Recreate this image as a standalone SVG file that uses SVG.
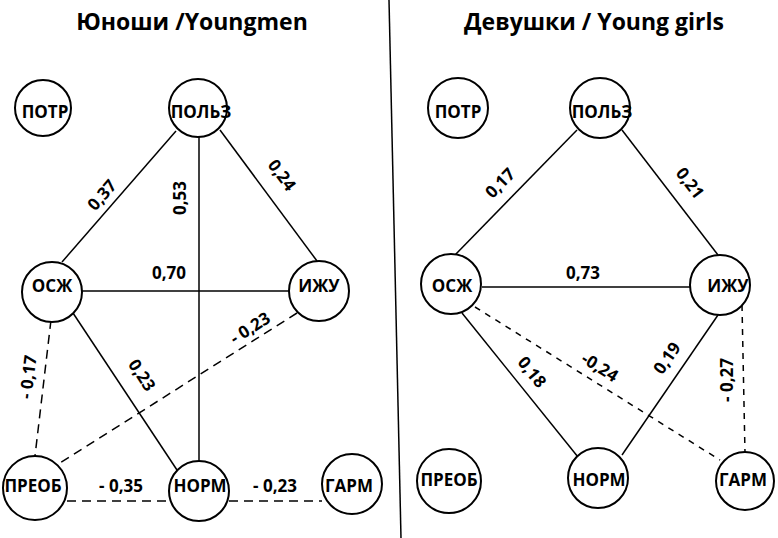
<svg xmlns="http://www.w3.org/2000/svg" width="778" height="538" viewBox="0 0 778 538">
<style>
  .bg{fill:#fff}
  .n circle{fill:#fff;stroke:#000;stroke-width:2}
  .n text{font-family:"Open Sans","Liberation Sans",sans-serif;font-weight:bold;font-size:17px;text-anchor:middle;fill:#000}
  .e line{stroke:#000;stroke-width:1.5;fill:none}
  .e line.d{stroke-dasharray:9 6}
  .e line.d2{stroke-dasharray:6 6}
  .lbl text{font-family:"Open Sans","Liberation Sans",sans-serif;font-weight:bold;font-size:17px;text-anchor:middle;fill:#000}
  .title{font-family:"Open Sans","Liberation Sans",sans-serif;font-weight:bold;font-size:23px;text-anchor:middle;fill:#000}
</style>
<rect class="bg" width="778" height="538"/>
<text class="title" x="192" y="30">Юноши /Youngmen</text>
<text class="title" x="594" y="30">Девушки / Young girls</text>
<line x1="389" y1="0" x2="401" y2="538" stroke="#000" stroke-width="1.5"/>

<g id="connectors" class="e">
  <!-- left -->
  <line x1="62" y1="262" x2="176" y2="131"/>
  <line x1="199" y1="137" x2="199" y2="462"/>
  <line x1="220" y1="130" x2="317" y2="261"/>
  <line x1="82" y1="291" x2="289" y2="291"/>
  <line x1="73" y1="313" x2="177" y2="470"/>
  <line class="d" x1="51" y1="320" x2="35" y2="456"/>
  <line class="d" x1="297" y1="313" x2="60" y2="463"/>
  <line class="d" x1="67" y1="501" x2="169" y2="501"/>
  <line class="d" x1="229" y1="501" x2="322" y2="501"/>
  <!-- right -->
  <line x1="455" y1="255" x2="577" y2="130"/>
  <line x1="622" y1="130" x2="718" y2="255"/>
  <line x1="482" y1="287" x2="690" y2="287"/>
  <line x1="462" y1="313" x2="578" y2="457"/>
  <line x1="718" y1="315" x2="622" y2="455"/>
  <line class="d2" x1="475" y1="307" x2="720" y2="460"/>
  <line class="d2" x1="742" y1="305" x2="745" y2="453"/>
</g>

<g class="lbl">
  <text transform="translate(102,195) rotate(-48.8)" y="6">0,37</text>
  <text transform="translate(180,198) rotate(-90)" y="6">0,53</text>
  <text transform="translate(282,175) rotate(53.5)" y="6">0,24</text>
  <text x="169" y="279">0,70</text>
  <text transform="translate(28,377) rotate(-83)" y="6">- 0,17</text>
  <text transform="translate(142,375) rotate(56.5)" y="6">0,23</text>
  <text transform="translate(250,328) rotate(-32.3)" y="6">- 0,23</text>
  <text x="121" y="492">- 0,35</text>
  <text x="275" y="492">- 0,23</text>

  <text transform="translate(500,183) rotate(-45.7)" y="6">0,17</text>
  <text transform="translate(690,183) rotate(52.5)" y="6">0,21</text>
  <text x="583" y="279">0,73</text>
  <text transform="translate(532,372) rotate(51)" y="6">0,18</text>
  <text transform="translate(600,367) rotate(32)" y="6">-0,24</text>
  <text transform="translate(667,358) rotate(-55.6)" y="6">0,19</text>
  <text transform="translate(727,380) rotate(-90)" y="6">- 0,27</text>
</g>

<!-- left nodes -->
<g id="L-POTR" class="n"><circle cx="43" cy="108" r="28"/><text x="45" y="118">ПОТР</text></g>
<g id="L-POLZ" class="n"><circle cx="198" cy="108" r="29"/><text x="201" y="118">ПОЛЬЗ</text></g>
<g id="L-OSZh" class="n"><circle cx="52" cy="292" r="30"/><text x="52" y="292">ОСЖ</text></g>
<g id="L-IZhU" class="n"><circle cx="319" cy="291" r="30"/><text x="319" y="292">ИЖУ</text></g>
<g id="L-PREOB" class="n"><circle cx="35" cy="488" r="32"/><text x="33" y="492">ПРЕОБ</text></g>
<g id="L-NORM" class="n"><circle cx="199" cy="491" r="30"/><text x="200" y="492">НОРМ</text></g>
<g id="L-GARM" class="n"><circle cx="352" cy="484" r="30"/><text x="349" y="492">ГАРМ</text></g>

<!-- right nodes -->
<g id="R-POTR" class="n"><circle cx="458" cy="108" r="30"/><text x="458" y="118">ПОТР</text></g>
<g id="R-POLZ" class="n"><circle cx="600" cy="108" r="30"/><text x="602" y="118">ПОЛЬЗ</text></g>
<g id="R-OSZh" class="n"><circle cx="451" cy="284" r="30"/><text x="452" y="292">ОСЖ</text></g>
<g id="R-IZhU" class="n"><circle cx="720" cy="285" r="30"/><text x="728" y="292">ИЖУ</text></g>
<g id="R-PREOB" class="n"><circle cx="449" cy="481" r="32"/><text x="449" y="486">ПРЕОБ</text></g>
<g id="R-NORM" class="n"><circle cx="598" cy="478" r="30"/><text x="599" y="486">НОРМ</text></g>
<g id="R-GARM" class="n"><circle cx="745" cy="481" r="29"/><text x="743" y="486">ГАРМ</text></g>
</svg>
